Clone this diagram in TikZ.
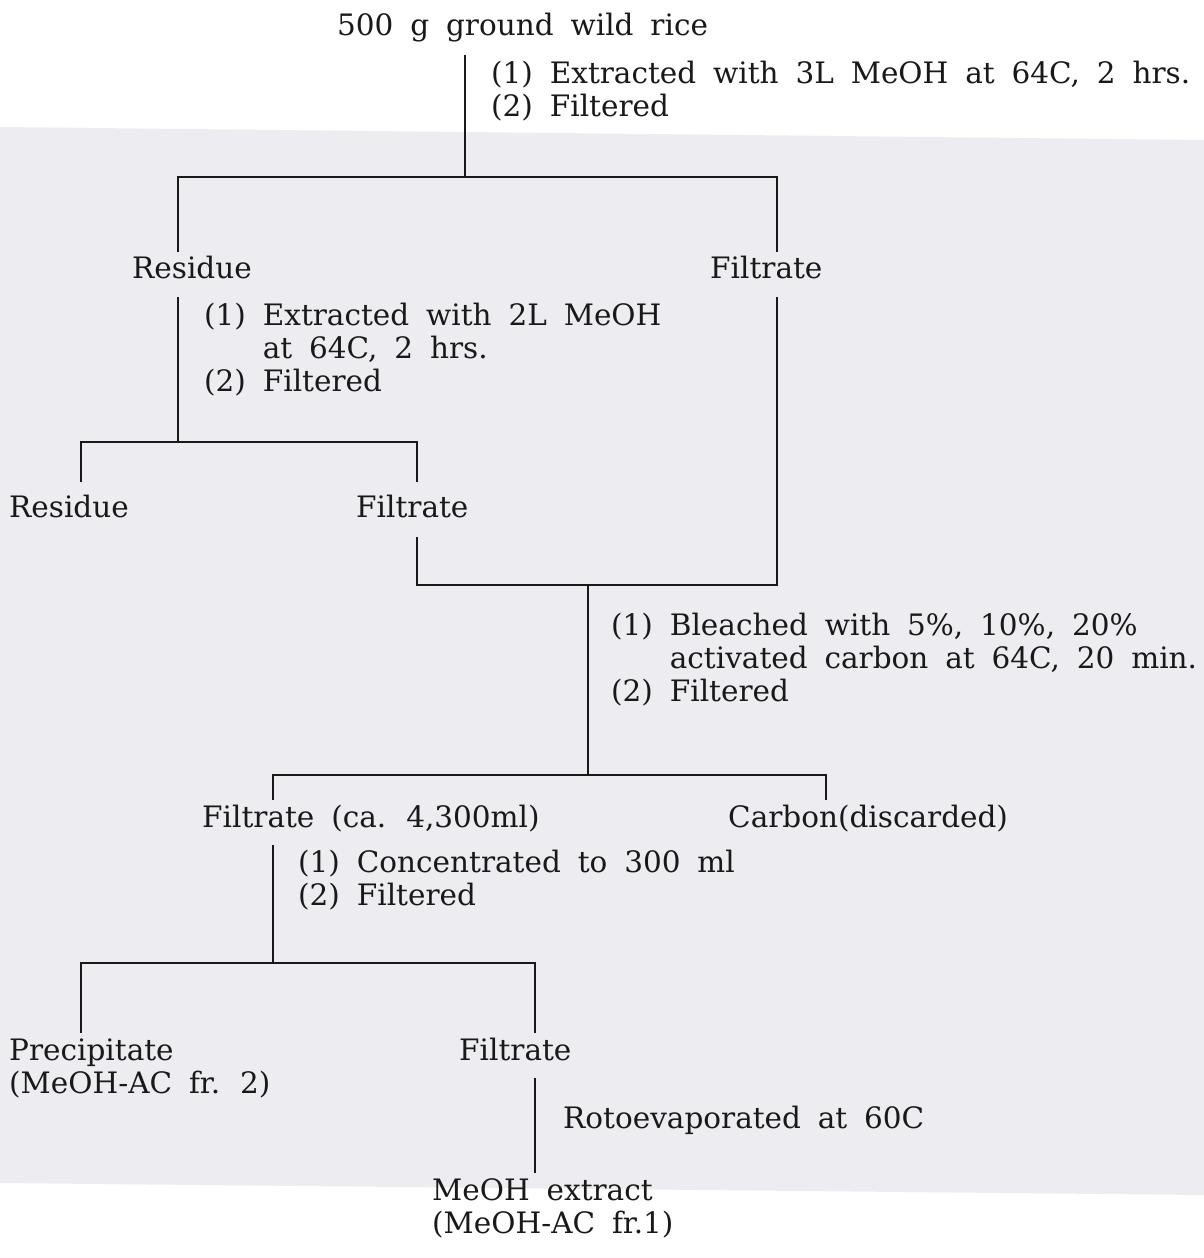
\documentclass[tikz,border=0pt]{standalone}
\usepackage{fontspec}
\setmainfont[WordSpace=1.8]{DejaVu Serif}
\definecolor{scanbg}{RGB}{237,237,241}
\definecolor{ink}{RGB}{25,25,25}
\newcommand{\stk}[1]{\begin{tabular}[t]{@{}l@{}}#1\end{tabular}}
\newcommand{\stp}[1]{\begin{tabular}[t]{@{}l@{\ }l@{}}#1\end{tabular}}
\begin{document}
\begin{tikzpicture}[x=1pt,y=-1pt,
  conn/.style={draw=ink, line width=2.4pt},
  txt/.style={anchor=base west, inner sep=0pt, text=ink, font=\fontsize{29.5}{33}\selectfont}]
\useasboundingbox (0,0) rectangle (1204,1258);
\fill[white] (0,0) rectangle (1204,1258);
\fill[scanbg] (0,127) -- (1204,140) -- (1204,1195) -- (0,1183) -- cycle;

% text nodes
\node[txt] (title) at (337,35) {500 g ground wild rice};
\node[txt] (s1) at (491,83) {\stp{(1)&Extracted with 3L MeOH at 64C, 2 hrs.\\(2)&Filtered}};
\node[txt] (r1) at (132,278) {Residue};
\node[txt] (f1) at (710,278) {Filtrate};
\node[txt] (s2) at (204,325) {\stp{(1)&Extracted with 2L MeOH\\&at 64C, 2 hrs.\\(2)&Filtered}};
\node[txt] (r2) at (9,517) {Residue};
\node[txt] (f2) at (356,517) {Filtrate};
\node[txt] (s3) at (611,635) {\stp{(1)&Bleached with 5\%, 10\%, 20\%\\&activated carbon at 64C, 20 min.\\(2)&Filtered}};
\node[txt] (f3) at (202,827) {Filtrate (ca. 4,300ml)};
\node[txt] (c3) at (728,827) {Carbon(discarded)};
\node[txt] (s4) at (298,872) {\stp{(1)&Concentrated to 300 ml\\(2)&Filtered}};
\node[txt] (p4) at (9,1060) {\stk{Precipitate\\(MeOH-AC fr. 2)}};
\node[txt] (f4) at (459,1060) {Filtrate};
\node[txt] (s5) at (563,1128) {Rotoevaporated at 60C};
\node[txt] (m5) at (432,1200) {\stk{MeOH extract\\(MeOH-AC fr.1)}};

% junction coordinates
\coordinate (a0) at (465,55);
\coordinate (j1) at (465,177);
\coordinate (r1up) at (178,252);
\coordinate (f1up) at (777,252);
\coordinate (r1dn) at (178,297);
\coordinate (f1dn) at (777,297);
\coordinate (j2) at (178,442);
\coordinate (r2up) at (81,482);
\coordinate (f2up) at (417,482);
\coordinate (f2dn) at (417,537);
\coordinate (j3) at (588,585);
\coordinate (j4) at (588,775);
\coordinate (f3up) at (273,800);
\coordinate (c3up) at (826,800);
\coordinate (f3dn) at (273,845);
\coordinate (j5) at (273,963);
\coordinate (p4up) at (81,1033);
\coordinate (f4up) at (535,1033);
\coordinate (f4dn) at (535,1078);
\coordinate (m5up) at (535,1173);

% connectors
\draw[conn] (a0) -- (j1);
\draw[conn] (r1up) |- (j1) -| (f1up);
\draw[conn] (r1dn) -- (j2);
\draw[conn] (r2up) |- (j2) -| (f2up);
\draw[conn] (f2dn) |- (j3) -| (f1dn);
\draw[conn] (j3) -- (j4);
\draw[conn] (f3up) |- (j4) -| (c3up);
\draw[conn] (f3dn) -- (j5);
\draw[conn] (p4up) |- (j5) -| (f4up);
\draw[conn] (f4dn) -- (m5up);
\end{tikzpicture}
\end{document}
